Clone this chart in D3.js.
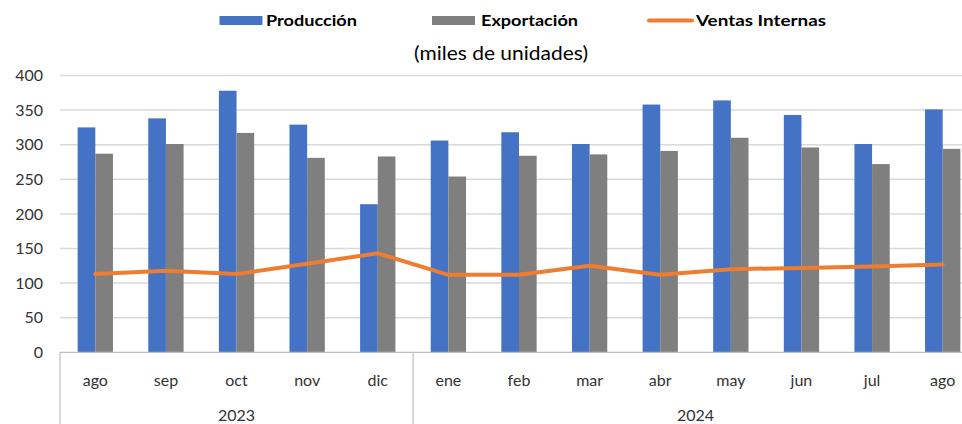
<!DOCTYPE html>
<html><head><meta charset="utf-8">
<script src="https://cdn.jsdelivr.net/npm/d3@7"></script>
<style>body{margin:0;background:#fff}svg{display:block;font-family:Lato,"Liberation Sans",sans-serif}</style>
</head><body>
<svg id="c" width="962" height="424"></svg>
<script>
const months = ["ago","sep","oct","nov","dic","ene","feb","mar","abr","may","jun","jul","ago"];
const years = [{label:"2023", from:0, to:5},{label:"2024", from:5, to:13}];
const produccion = [325,338,378,329,214,306,318,301,358,364,343,301,351];
const exportacion = [287,301,317,281,283,254,284,286,291,310,296,272,294];
const ventas = [113,118,113,128,143,112,112,125,112,120,122,124,127];
const yTicks = [0,50,100,150,200,250,300,350,400];
const seriesNames = ["Producción","Exportación","Ventas Internas"];
const colors = {P:"#4472C4", E:"#7F7F7F", V:"#ED7D31"};

const svg = d3.select("#c");
const L = 60, R = 978, T = 75.5, B = 352.3;
const idx = d3.range(months.length);
const x = d3.scaleBand().domain(idx).range([L,R]).padding(0);
const xs = d3.scaleBand().domain(["P","E"]).range([0,x.bandwidth()]).paddingInner(0).paddingOuter(1);
const y = d3.scaleLinear().domain([0,400]).range([B,T]);

// gridlines
svg.append("g").selectAll("line").data(yTicks.filter(d=>d>0)).join("line")
  .attr("x1",L).attr("x2",R).attr("y1",d=>y(d)).attr("y2",d=>y(d))
  .attr("stroke","#d9d9d9").attr("stroke-width",1.5);

// y labels
svg.append("g").selectAll("text").data(yTicks).join("text")
  .attr("x",43).attr("y",d=>y(d)).attr("dy","0.36em").attr("text-anchor","end")
  .attr("font-size",16).attr("fill","#333").text(d=>d);

// bars
const g = svg.append("g");
g.selectAll("rect.p").data(produccion).join("rect").attr("class","p")
  .attr("x",(d,i)=>x(i)+xs("P")).attr("width",xs.bandwidth())
  .attr("y",d=>y(d)).attr("height",d=>y(0)-y(d)).attr("fill",colors.P);
g.selectAll("rect.e").data(exportacion).join("rect").attr("class","e")
  .attr("x",(d,i)=>x(i)+xs("E")).attr("width",xs.bandwidth())
  .attr("y",d=>y(d)).attr("height",d=>y(0)-y(d)).attr("fill",colors.E);

// x axis line
svg.append("line").attr("x1",L).attr("x2",R).attr("y1",B).attr("y2",B)
  .attr("stroke","#bfbfbf").attr("stroke-width",1.2);

// line
const line = d3.line().x((d,i)=>x(i)+x.bandwidth()/2).y(d=>y(d));
svg.append("path").datum(ventas).attr("d",line).attr("fill","none")
  .attr("stroke",colors.V).attr("stroke-width",4).attr("stroke-linejoin","round").attr("stroke-linecap","round");

// category axis
svg.append("g").selectAll("line").data([L, x(5)]).join("line")
  .attr("x1",d=>d).attr("x2",d=>d).attr("y1",B).attr("y2",424)
  .attr("stroke","#bfbfbf").attr("stroke-width",1.2);
svg.append("g").selectAll("text").data(months).join("text")
  .attr("x",(d,i)=>x(i)+x.bandwidth()/2).attr("y",380).attr("dy","0.36em")
  .attr("text-anchor","middle").attr("font-size",16).attr("fill","#333").text(d=>d);
svg.append("g").selectAll("text").data(years).join("text")
  .attr("x",d=>(x(d.from)+x(d.to-1)+x.bandwidth())/2).attr("y",415).attr("dy","0.36em")
  .attr("text-anchor","middle").attr("font-size",16).attr("fill","#333").text(d=>d.label);

// legend
const leg = svg.append("g");
const legItems = [
  {name:seriesNames[0], c:colors.P, type:"rect", sx:219.5, tx:266, w:91},
  {name:seriesNames[1], c:colors.E, type:"rect", sx:432, tx:481, w:97},
  {name:seriesNames[2], c:colors.V, type:"line", sx:647, tx:696, w:130}
];
legItems.forEach(it=>{
  if(it.type==="rect") leg.append("rect").attr("x",it.sx).attr("y",16).attr("width",43).attr("height",9).attr("fill",it.c);
  else leg.append("line").attr("x1",it.sx+2).attr("x2",it.sx+45).attr("y1",20.5).attr("y2",20.5).attr("stroke",it.c).attr("stroke-width",4).attr("stroke-linecap","round");
  leg.append("text").attr("x",it.tx).attr("y",20.5).attr("dy","0.36em").attr("font-size",15).attr("font-weight","bold")
    .attr("fill","#000").attr("textLength",it.w).attr("lengthAdjust","spacingAndGlyphs").text(it.name);
});
svg.append("text").attr("x",414).attr("y",53).attr("dy","0.36em").attr("text-anchor","start")
  .attr("font-size",19).attr("fill","#000").attr("textLength",174).attr("lengthAdjust","spacingAndGlyphs").text("(miles de unidades)");
</script>
</body></html>
